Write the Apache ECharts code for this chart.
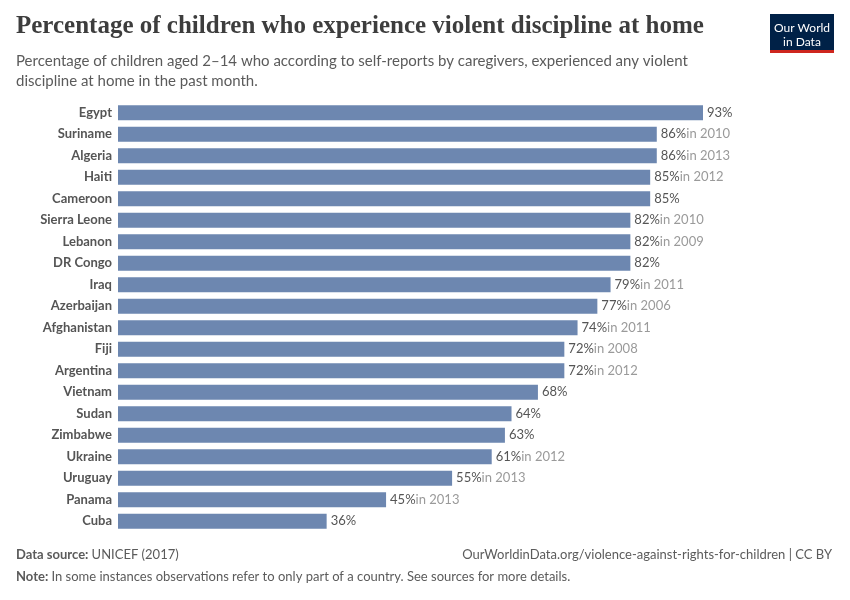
<!DOCTYPE html>
<html><head><meta charset="utf-8">
<script src="https://cdn.jsdelivr.net/npm/echarts@6/dist/echarts.min.js"></script>
<style>body{margin:0}#c{width:850px;height:600px}</style></head>
<body><div id="c"></div>
<script>
const countries = ["Egypt","Suriname","Algeria","Haiti","Cameroon","Sierra Leone","Lebanon","DR Congo","Iraq","Azerbaijan","Afghanistan","Fiji","Argentina","Vietnam","Sudan","Zimbabwe","Ukraine","Uruguay","Panama","Cuba"];
const values = [93,86,86,85,85,82,82,82,79,77,74,72,72,68,64,63,61,55,45,36];
const years = ["","2010","2013","2012","","2010","2009","","2011","2006","2011","2008","2012","","","","2012","2013","2013",""];

const chart = echarts.init(document.getElementById('c'));
chart.setOption({
  animation:false,
  graphic:[
    {type:'text',left:16,top:14,style:{text:'Percentage of children who experience violent discipline at home',font:'bold 25px "Liberation Serif", serif',fill:'#3d3d3d'}},
    {type:'text',left:16,top:51,style:{text:'Percentage of children aged 2–14 who according to self-reports by caregivers, experienced any violent\ndiscipline at home in the past month.',font:'15px Lato',fill:'#5b5b5b',lineHeight:20}},
    {type:'rect',shape:{x:770,y:14,width:64,height:36},style:{fill:'#002147'}},
    {type:'rect',shape:{x:770,y:50,width:64,height:3},style:{fill:'#ce261e'}},
    {type:'text',x:802,y:21,style:{text:'Our World\nin Data',font:'12px Lato',fill:'#fff',align:'center',lineHeight:14}},
    {type:'text',left:16,top:548,style:{rich:{b:{font:'bold 13px Lato',fill:'#5b5b5b'},n:{font:'13px Lato',fill:'#5b5b5b'}},text:'{b|Data source: }{n|UNICEF (2017)}'}},
    {type:'text',right:18,top:548,style:{text:'OurWorldinData.org/violence-against-rights-for-children | CC BY',font:'13px Lato',fill:'#5b5b5b'}},
    {type:'text',left:16,top:570,style:{rich:{b:{font:'bold 13px Lato',fill:'#5b5b5b'},n:{font:'13px Lato',fill:'#5b5b5b'}},text:'{b|Note: }{n|In some instances observations refer to only part of a country. See sources for more details.}'}}
  ],
  grid:{left:118,right:147,top:102,bottom:68},
  xAxis:{type:'value',min:4.4,max:93,show:false},
  yAxis:{type:'category',data:countries,inverse:true,axisLine:{show:false},axisTick:{show:false},
    axisLabel:{color:'#555',fontFamily:'Lato',fontWeight:'bold',fontSize:13,margin:6}},
  series:[{type:'bar',clip:true,data:values,barWidth:15,itemStyle:{color:'#6d87b0'},
    label:{show:true,position:'right',distance:4,formatter:p=>'{v|'+p.value+'%}'+(years[p.dataIndex]?'{y|in '+years[p.dataIndex]+'}':''),
      rich:{v:{fontFamily:'Lato',fontSize:13,color:'#555'},y:{fontFamily:'Lato',fontSize:13,color:'#9a9a9a'}}}}]
});
</script></body></html>
